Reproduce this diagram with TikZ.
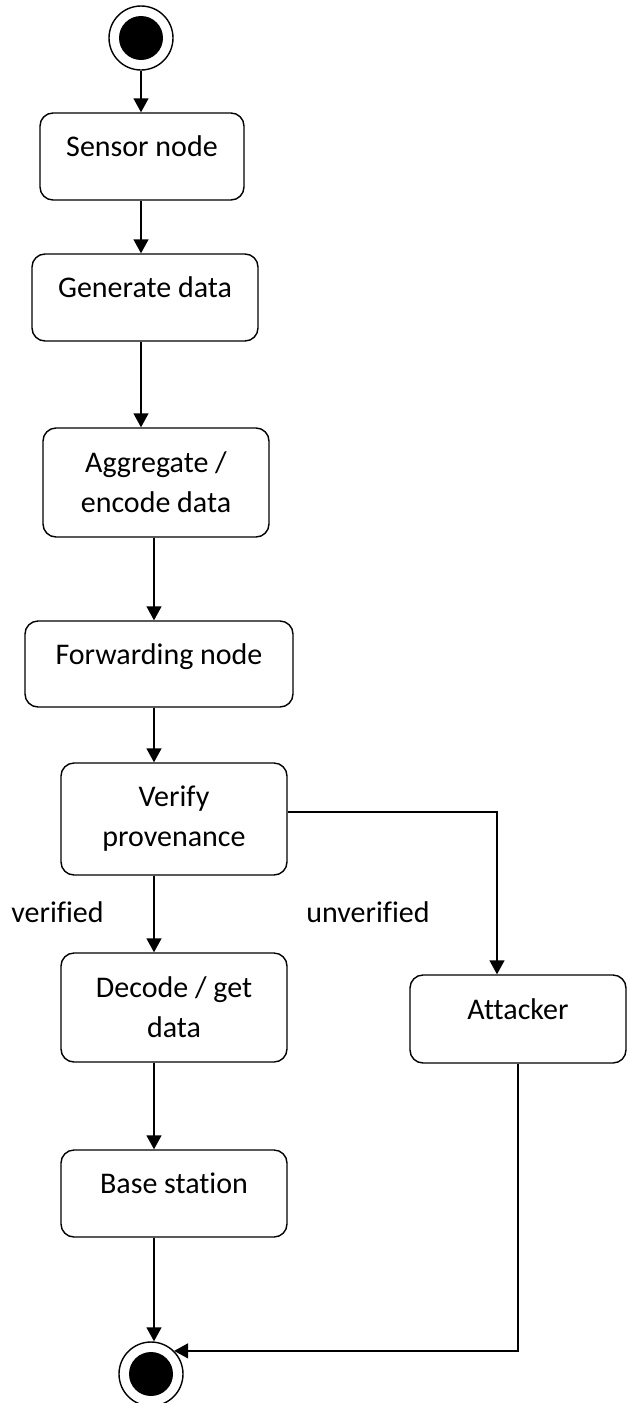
\documentclass[tikz,border=0pt]{standalone}
\usepackage{fontspec}
\setmainfont{Carlito}[Ligatures={NoCommon,NoRare}]
\usepackage{tikz}
\usetikzlibrary{arrows.meta}
\tikzstyle{arrow} = [-{Triangle[length=14pt,width=15pt]},line width=1.4pt]
\tikzstyle{actbox} = [draw,line width=1.4pt,rounded corners=13pt,align=center,inner sep=0pt]
\tikzstyle{oneline} = [text height=22pt,text depth=22pt]
\tikzstyle{endpoint} = [circle,draw,line width=1.4pt,minimum size=64pt,inner sep=0pt,path picture={\fill (path picture bounding box.center) circle (22pt);}]

\begin{document}
\begin{tikzpicture}[x=1pt,y=-1pt,font=\fontsize{30}{40}\selectfont]
      \useasboundingbox (0,0) rectangle (627,1403);
      \coordinate (colA) at (141,0);
      \coordinate (colB) at (154,0);
      \coordinate (split) at (497,812);
      \node[endpoint] (start) at (141,38) {};
      \node[actbox,oneline,minimum width=204pt,minimum height=87pt] (sensor) at (142,156.5) {Sensor node};
      \node[actbox,oneline,minimum width=226pt,minimum height=87pt] (gen) at (145,297.5) {Generate data};
      \node[actbox,minimum width=226pt,minimum height=109pt] (agg) at (156,482.5) {Aggregate /\\encode data};
      \node[actbox,oneline,minimum width=268pt,minimum height=86pt] (fwd) at (159,664) {Forwarding node};
      \node[actbox,minimum width=226pt,minimum height=112pt] (verify) at (174,819) {Verify\\provenance};
      \node[actbox,minimum width=226pt,minimum height=109pt] (decode) at (174,1007.5) {Decode / get\\data};
      \node[actbox,oneline,minimum width=226pt,minimum height=87pt] (base) at (174,1193.5) {Base station};
      \node[actbox,oneline,minimum width=216pt,minimum height=88pt] (att) at (518,1019) {Attacker};
      \node[endpoint] (fin) at (151,1374) {};
      \node (ok) at (57.5,912) {verified};
      \node (nok) at (368,912) {unverified};
      \draw[arrow] (start) -- (sensor.north -| colA);
      \draw[arrow] (sensor.south -| colA) -- (gen.north -| colA);
      \draw[arrow] (gen.south -| colA) -- (agg.north -| colA);
      \draw[arrow] (agg.south -| colB) -- (fwd.north -| colB);
      \draw[arrow] (fwd.south -| colB) -- (verify.north -| colB);
      \draw[arrow] (verify.south -| colB) -- (decode.north -| colB);
      \draw[arrow] (decode.south -| colB) -- (base.north -| colB);
      \draw[arrow] (base.south -| colB) -- (fin.north -| colB);
      \draw[arrow] (verify.east |- split) -- (split) -- (att.north -| split);
      \draw[arrow] (att.south) |- (fin.45);
    \end{tikzpicture}
\end{document}
